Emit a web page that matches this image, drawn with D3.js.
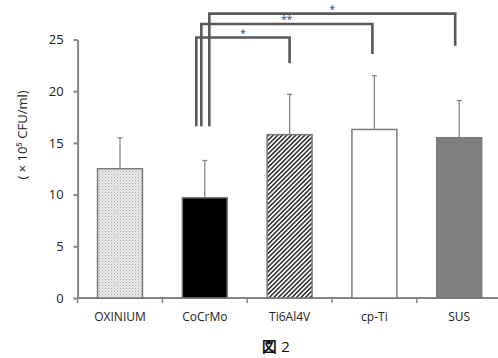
<!DOCTYPE html>
<html>
<head>
<meta charset="utf-8">
<script src="https://cdn.jsdelivr.net/npm/d3@7/dist/d3.min.js"></script>
<style>
  body { margin: 0; background: #fff; }
  text { font-family: "Open Sans", "Liberation Sans", sans-serif; }
</style>
</head>
<body>
<div id="chart"></div>
<script>
// bar data (x10^5 CFU/ml)
const categories = ["OXINIUM", "CoCrMo", "Ti6Al4V", "cp-Ti", "SUS"];
const means = [12.5, 9.7, 15.8, 16.3, 15.5];
const sds = [3.0, 3.6, 3.9, 5.2, 3.6];
const yTicks = [0, 5, 10, 15, 20, 25];

// significance brackets, all from CoCrMo
const bracketTo = ["Ti6Al4V", "cp-Ti", "SUS"];
const bracketTop = [25.2, 26.5, 27.5];
const bracketEnd = [22.7, 23.6, 24.4];
const bracketStart = 16.6;
const bracketMark = ["*", "**", "*"];

const W = 498, H = 358;
const svg = d3.select("#chart").append("svg").attr("width", W).attr("height", H);

const defs = svg.append("defs");
// fine dots for OXINIUM
const dots = defs.append("pattern").attr("id", "dots")
  .attr("patternUnits", "userSpaceOnUse").attr("width", 3).attr("height", 3);
dots.append("rect").attr("width", 3).attr("height", 3).attr("fill", "#e8e8e8");
dots.append("rect").attr("width", 1).attr("height", 1).attr("fill", "#a8a8a8");
dots.append("rect").attr("x", 1.5).attr("y", 1.5).attr("width", 1).attr("height", 1).attr("fill", "#c4c4c4");
// diagonal stripes for Ti6Al4V
const hatch = defs.append("pattern").attr("id", "hatch")
  .attr("patternUnits", "userSpaceOnUse").attr("width", 3.2).attr("height", 3.2)
  .attr("patternTransform", "rotate(45)");
hatch.append("rect").attr("width", 3.2).attr("height", 3.2).attr("fill", "#fff");
hatch.append("rect").attr("width", 1.5).attr("height", 3.2).attr("fill", "#2a2a2a");

const fills = ["url(#dots)", "#000", "url(#hatch)", "#fff", "#7f7f7f"];

const x = d3.scaleBand().domain(categories).range([77.6, 501.6]).padding(0);
const y = d3.scaleLinear().domain([0, 25]).range([298, 39.5]);
const barW = x.bandwidth() * 0.53;
const cx = c => x(c) + x.bandwidth() / 2;

// y axis
const yAxis = svg.append("g").attr("transform", "translate(77.6,0)")
  .call(d3.axisLeft(y).tickValues(yTicks).tickSize(4).tickSizeOuter(0).tickPadding(10));
yAxis.selectAll("path, line").attr("stroke", "#868686").attr("stroke-width", 2);
yAxis.selectAll("text").attr("font-size", 13).attr("fill", "#222");

// x axis
const xAxis = svg.append("g").attr("transform", "translate(0,298)")
  .call(d3.axisBottom(x).tickSize(0).tickPadding(14));
xAxis.select("path").remove();
xAxis.selectAll("text").attr("font-size", 12).attr("fill", "#222");
svg.append("line").attr("x1", 77.6).attr("x2", W).attr("y1", 298).attr("y2", 298)
  .attr("stroke", "#868686").attr("stroke-width", 2);
svg.append("g").selectAll("line").data(categories).join("line")
  .attr("x1", d => x(d)).attr("x2", d => x(d))
  .attr("y1", 298).attr("y2", 303)
  .attr("stroke", "#868686").attr("stroke-width", 1.5);

// error bars
const err = svg.append("g").attr("stroke", "#7f7f7f").attr("stroke-width", 1.2);
categories.forEach((c, i) => {
  err.append("line").attr("x1", cx(c)).attr("x2", cx(c))
    .attr("y1", y(means[i])).attr("y2", y(means[i] + sds[i]));
  err.append("line").attr("x1", cx(c) - 2.5).attr("x2", cx(c) + 2.5)
    .attr("y1", y(means[i] + sds[i])).attr("y2", y(means[i] + sds[i]));
});

// bars
svg.append("g").selectAll("rect").data(categories).join("rect")
  .attr("x", d => cx(d) - barW / 2)
  .attr("y", (d, i) => y(means[i]))
  .attr("width", barW)
  .attr("height", (d, i) => y(0) - y(means[i]))
  .attr("fill", (d, i) => fills[i])
  .attr("stroke", "#7a7a7a").attr("stroke-width", 1.5);

// significance brackets
const legOffset = [-8.5, -3.5, 4.5];
const endOffset = [0, -2, -4];
const br = svg.append("g");
bracketTo.forEach((t, i) => {
  const x0 = cx("CoCrMo") + legOffset[i];
  const x1 = cx(t) + endOffset[i];
  br.append("path")
    .attr("d", `M${x0},${y(bracketStart)}V${y(bracketTop[i])}H${x1}V${y(bracketEnd[i])}`)
    .attr("fill", "none").attr("stroke", "#595959").attr("stroke-width", 2.6);
  br.append("text").attr("x", (x0 + x1) / 2).attr("y", y(bracketTop[i]) - 0.5)
    .attr("text-anchor", "middle").attr("font-size", 10)
    .attr("fill", "#2a3f6a").text(bracketMark[i]);
});

// axis title
svg.append("text").attr("transform", "translate(27,135) rotate(-90)")
  .attr("text-anchor", "middle").attr("font-size", 13).attr("fill", "#222")
  .text("( × 10⁵ CFU/ml)");

// figure label
svg.append("text").attr("x", 276).attr("y", 352).attr("text-anchor", "middle")
  .attr("font-family", "Noto Sans CJK JP").attr("font-size", 15).attr("fill", "#111")
  .html('<tspan font-weight="bold">図</tspan> 2');
</script>
</body>
</html>
